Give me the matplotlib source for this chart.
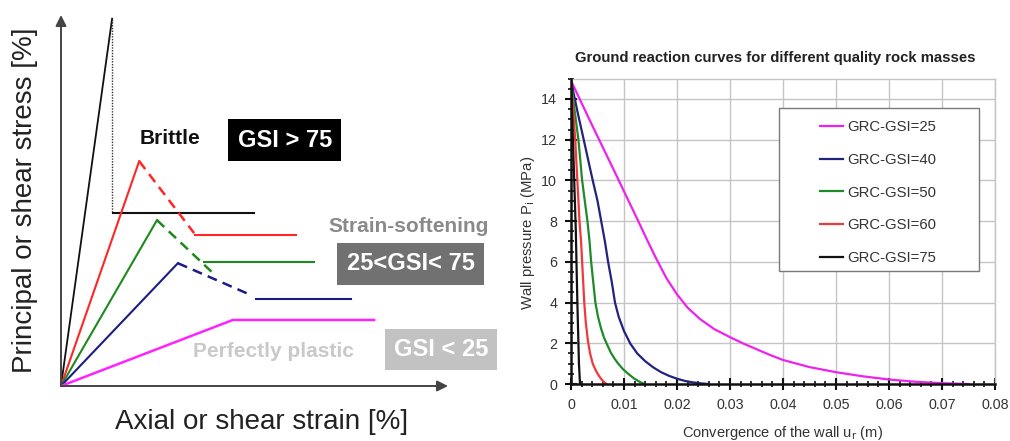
import matplotlib
matplotlib.use("Agg")
import matplotlib.pyplot as plt
from matplotlib.patches import Rectangle
from matplotlib.ticker import MultipleLocator

plt.rcParams['font.family'] = ['Liberation Sans', 'DejaVu Sans']

# ---------------- Left panel: schematic stress-strain (arbitrary units 0-100) ----------------
brittle_elastic_x = [0, 13.2]
brittle_elastic_y = [0, 99]
brittle_drop_x = [13.1, 13.1]
brittle_drop_y = [99, 47.0]
brittle_res_x = [13.5, 49.9]
brittle_res_y = [46.6, 46.6]

red_elastic_x = [0, 20.2]
red_elastic_y = [0, 60.6]
red_soft_x = [20.2, 34.4]
red_soft_y = [60.6, 41.2]
red_res_x = [34.7, 60.7]
red_res_y = [40.8, 40.8]

green_elastic_x = [0, 24.8]
green_elastic_y = [0, 44.7]
green_soft_x = [24.8, 38.9]
green_soft_y = [44.7, 30.8]
green_res_x = [37.0, 65.4]
green_res_y = [33.3, 33.3]

blue_elastic_x = [0, 30.2]
blue_elastic_y = [0, 33.1]
blue_soft_x = [30.2, 48.0]
blue_soft_y = [33.1, 25.0]
blue_res_x = [50.3, 74.9]
blue_res_y = [23.4, 23.4]

plastic_x = [0, 44.4, 80.9]
plastic_y = [0, 17.8, 17.8]

# ---------------- Right panel: ground reaction curves ----------------
gsi_labels = ['GRC-GSI=25', 'GRC-GSI=40', 'GRC-GSI=50', 'GRC-GSI=60', 'GRC-GSI=75']

gsi25_x = [0, 0.004, 0.008, 0.010, 0.0128, 0.0145, 0.016, 0.018, 0.020, 0.022, 0.0243,
           0.027, 0.030, 0.0325, 0.035, 0.0375, 0.040, 0.045, 0.050, 0.055, 0.060,
           0.065, 0.070, 0.075]
gsi25_y = [14.9, 12.7, 10.55, 9.46, 7.94, 7.0, 6.2, 5.2, 4.4, 3.75, 3.2,
           2.7, 2.3, 1.99, 1.71, 1.43, 1.18, 0.83, 0.58, 0.38, 0.22,
           0.11, 0.04, 0.0]

gsi40_x = [0, 0.0012, 0.0024, 0.0035, 0.0041, 0.0050, 0.0057, 0.0064, 0.0070, 0.0077,
           0.0083, 0.0090, 0.0100, 0.0112, 0.0125, 0.0140, 0.0155, 0.0170, 0.0185,
           0.0200, 0.0215, 0.0230, 0.0245, 0.0260]
gsi40_y = [14.9, 13.4, 12.0, 10.7, 10.0, 9.0, 8.0, 7.0, 6.0, 5.0,
           4.0, 3.3, 2.6, 1.98, 1.5, 1.12, 0.82, 0.58, 0.4,
           0.26, 0.15, 0.08, 0.03, 0.0]

gsi50_x = [0, 0.0007, 0.0014, 0.0021, 0.0026, 0.0031, 0.0035, 0.0038, 0.0042, 0.0046,
           0.0051, 0.0057, 0.0062, 0.0067, 0.0075, 0.0082, 0.0089, 0.0098, 0.0108,
           0.0119, 0.0130, 0.0138]
gsi50_y = [14.9, 13.4, 12.0, 10.0, 9.0, 8.0, 7.0, 6.0, 5.0, 4.0,
           3.3, 2.7, 2.3, 2.0, 1.55, 1.25, 1.0, 0.73, 0.5,
           0.27, 0.1, 0.0]

gsi60_x = [0, 0.0004, 0.0008, 0.0012, 0.0016, 0.0019, 0.0021, 0.0023, 0.0025, 0.0028,
           0.0032, 0.0036, 0.0041, 0.0047, 0.0054, 0.0060, 0.0067]
gsi60_y = [14.9, 13.5, 12.0, 10.0, 8.0, 7.0, 6.0, 5.0, 4.0, 3.0,
           2.1, 1.5, 1.0, 0.65, 0.35, 0.15, 0.0]

gsi75_x = [0, 0.0009, 0.0012, 0.0015, 0.0017]
gsi75_y = [15, 7.6, 4, 1, 0]

x_ticks = [0, 0.01, 0.02, 0.03, 0.04, 0.05, 0.06, 0.07, 0.08]
x_tick_labels = ['0', '0.01', '0.02', '0.03', '0.04', '0.05', '0.06', '0.07', '0.08']
y_ticks = [0, 2, 4, 6, 8, 10, 12, 14]
y_tick_labels = ['0', '2', '4', '6', '8', '10', '12', '14']

W, H = 1010, 441
fig = plt.figure(figsize=(W / 100, H / 100), dpi=100)
fig.patch.set_facecolor('white')

# ---------- left ----------
ax1 = fig.add_axes([61 / W, 1 - 386 / H, 387 / W, 371 / H])
ax1.set_xlim(0, 100)
ax1.set_ylim(0, 100)
ax1.axis('off')
ax1.annotate('', xy=(1.0, 0), xytext=(0, 0), xycoords='axes fraction',
             arrowprops=dict(arrowstyle='-|>', color='#444444', lw=1.4, mutation_scale=16,
                             shrinkA=0, shrinkB=0))
ax1.annotate('', xy=(0, 1.0), xytext=(0, 0), xycoords='axes fraction',
             arrowprops=dict(arrowstyle='-|>', color='#444444', lw=1.4, mutation_scale=16,
                             shrinkA=0, shrinkB=0))

c_red, c_green, c_blue, c_mag = '#ff2626', '#1c8a1c', '#1c1c84', '#ff22ff'
ax1.plot(brittle_elastic_x, brittle_elastic_y, color='#111111', lw=1.3, clip_on=False)
ax1.plot(brittle_drop_x, brittle_drop_y, color='#333333', lw=1.0, ls=(0, (1, 1)), clip_on=False)
ax1.plot(brittle_res_x, brittle_res_y, color='#111111', lw=1.5)

dash = (0, (4, 2.5))
ax1.plot(red_elastic_x, red_elastic_y, color=c_red, lw=1.5)
ax1.plot(red_soft_x, red_soft_y, color=c_red, lw=1.8, ls=dash)
ax1.plot(red_res_x, red_res_y, color=c_red, lw=1.5)

ax1.plot(green_elastic_x, green_elastic_y, color=c_green, lw=1.5)
ax1.plot(green_soft_x, green_soft_y, color=c_green, lw=1.8, ls=dash)
ax1.plot(green_res_x, green_res_y, color=c_green, lw=1.5)

ax1.plot(blue_elastic_x, blue_elastic_y, color=c_blue, lw=1.5)
ax1.plot(blue_soft_x, blue_soft_y, color=c_blue, lw=1.8, ls=dash)
ax1.plot(blue_res_x, blue_res_y, color=c_blue, lw=1.5)

ax1.plot(plastic_x, plastic_y, color=c_mag, lw=1.8)

ax1.text(28.2, 66.8, 'Brittle', fontsize=15, fontweight='bold', color='#111111',
         ha='center', va='center')
ax1.text(57.8, 66.2, 'GSI > 75', fontsize=17, fontweight='bold', color='white',
         ha='center', va='center',
         bbox=dict(boxstyle='square,pad=0.4', fc='black', ec='none'))
ax1.text(89.7, 42.9, 'Strain-softening', fontsize=15, fontweight='bold', color='#8a8a8a',
         ha='center', va='center', clip_on=False)
ax1.text(90.4, 32.9, '25<GSI< 75', fontsize=17, fontweight='bold', color='white',
         ha='center', va='center', clip_on=False,
         bbox=dict(boxstyle='square,pad=0.4', fc='#717171', ec='none'))
ax1.text(54.9, 9.2, 'Perfectly plastic', fontsize=15, fontweight='bold', color='#c9c9c9',
         ha='center', va='center')
ax1.text(98.2, 9.8, 'GSI < 25', fontsize=17, fontweight='bold', color='white',
         ha='center', va='center', clip_on=False,
         bbox=dict(boxstyle='square,pad=0.38', fc='#c2c2c2', ec='none'))

fig.text(25 / W, 1 - 200 / H, 'Principal or shear stress [%]', rotation=90, fontsize=20,
         color='#222222', ha='center', va='center')
fig.text(262 / W, 1 - 422 / H, 'Axial or shear strain [%]', fontsize=20,
         color='#222222', ha='center', va='center')

# ---------- right ----------
ax2 = fig.add_axes([571 / W, 1 - 384 / H, 424 / W, (384 - 78.6) / H])
ax2.set_xlim(0, 0.08)
ax2.set_ylim(0, 15)
ax2.set_xticks(x_ticks)
ax2.set_xticklabels(x_tick_labels)
ax2.set_yticks(y_ticks)
ax2.set_yticklabels(y_tick_labels)
ax2.xaxis.set_minor_locator(MultipleLocator(0.002))
ax2.yaxis.set_minor_locator(MultipleLocator(0.5))
ax2.grid(True, which='major', color='#c4c4c4', lw=1.0)
ax2.set_axisbelow(True)
for s in ['top', 'right']:
    ax2.spines[s].set_color('#c4c4c4')
    ax2.spines[s].set_linewidth(1.0)
for s in ['left', 'bottom']:
    ax2.spines[s].set_color('#111111')
    ax2.spines[s].set_linewidth(1.8)
    ax2.spines[s].set_zorder(4)
ax2.tick_params(which='major', direction='inout', length=8, width=1.5, color='#111111',
                labelsize=10.3, labelcolor='#333333', pad=6)
ax2.tick_params(which='minor', direction='inout', length=5, width=1.2, color='#111111')

curves = [(gsi25_x, gsi25_y, '#ee22ee'), (gsi40_x, gsi40_y, '#22227f'),
          (gsi50_x, gsi50_y, '#1f8a2a'), (gsi60_x, gsi60_y, '#ee3a3a'),
          (gsi75_x, gsi75_y, '#111111')]
for (xs, ys, col), lab in zip(curves, gsi_labels):
    ax2.plot(xs, ys, color=col, lw=1.6, label=lab, zorder=3, solid_joinstyle='round')

ax2.add_patch(Rectangle((0.4906, 0.37), 0.4717, 0.5337, transform=ax2.transAxes,
                        facecolor='white', edgecolor='#7a7a7a', lw=1.0, zorder=4))
leg = ax2.legend(loc='upper left', bbox_to_anchor=(0.587, 0.864), frameon=False,
                 fontsize=10.7, borderpad=0, borderaxespad=0, labelspacing=1.26,
                 handlelength=1.55, handletextpad=0.27)
leg.set_zorder(5)
for t in leg.get_texts():
    t.set_color('#333333')

fig.text(775 / W, 1 - 58 / H, 'Ground reaction curves for different quality rock masses',
         fontsize=10.7, fontweight='bold', color='#222222', ha='center', va='center')
fig.text(528 / W, 1 - 233 / H, 'Wall pressure P$_{\\rm i}$ (MPa)', rotation=90, fontsize=10.7,
         color='#333333', ha='center', va='center')
fig.text(783 / W, 1 - 433 / H, 'Convergence of the wall u$_{\\rm r}$ (m)', fontsize=10.5,
         color='#333333', ha='center', va='center')

fig.savefig('out.png', dpi=100, facecolor='white')
